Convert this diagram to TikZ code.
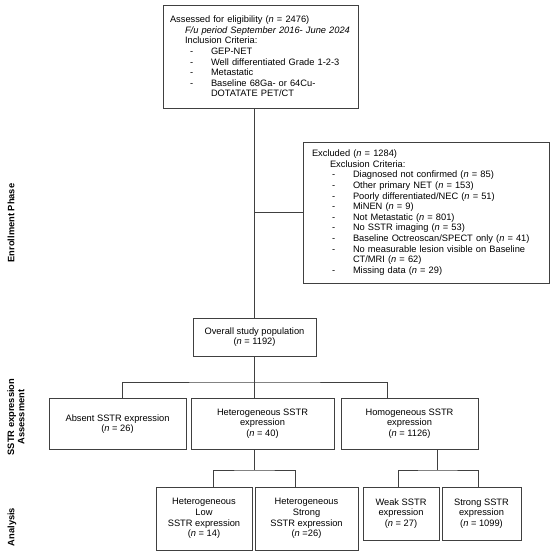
\documentclass[tikz,border=0pt]{standalone}
\usepackage{fontspec}
\setmainfont{Liberation Sans}
\usepackage{tikz}

\newcommand{\nn}{\textit{n}}
\newcommand{\critem}[1]{\hspace*{20pt}\makebox[21pt][l]{-}#1}
\newcommand{\critmore}[1]{\hspace*{41pt}#1}

\begin{document}
\begin{tikzpicture}[x=1pt, y=-1pt,
    every node/.style={font=\fontsize{9.3}{10.6}\selectfont},
    box/.style={draw=black!75, line width=0.9pt, align=center, inner sep=0pt},
    listbox/.style={box, align=left, inner xsep=7pt},
    link/.style={draw=black!75, line width=0.9pt},
    phase/.style={font=\fontsize{9.3}{10.2}\selectfont\bfseries, rotate=90, align=center}]
    \useasboundingbox (0,0) rectangle (550,555);

    % Enrollment
    \node[listbox, minimum width=195pt, minimum height=103pt, text width=181pt] (elig) at (260.5,56.5) {%
        Assessed for eligibility (\nn{} = 2476)\\
        \hspace*{15pt}\textit{F/u period September 2016- June 2024}\\
        \hspace*{15pt}Inclusion Criteria:\\
        \critem{GEP-NET}\\
        \critem{Well differentiated Grade 1-2-3}\\
        \critem{Metastatic}\\
        \critem{Baseline 68Ga- or 64Cu-}\\
        \critmore{DOTATATE PET/CT}};
    \node[listbox, inner xsep=9pt, minimum width=246pt, minimum height=141pt, text width=228pt] (excl) at (426,212.5) {%
        Excluded (\nn{} = 1284)\\
        \hspace*{18pt}Exclusion Criteria:\\
        \critem{Diagnosed not confirmed (\nn{} = 85)}\\
        \critem{Other primary NET (\nn{} = 153)}\\
        \critem{Poorly differentiated/NEC (\nn{} = 51)}\\
        \critem{MiNEN (\nn{} = 9)}\\
        \critem{Not Metastatic (\nn{} = 801)}\\
        \critem{No SSTR imaging (\nn{} = 53)}\\
        \critem{Baseline Octreoscan/SPECT only (\nn{} = 41)}\\
        \critem{No measurable lesion visible on Baseline}\\
        \critmore{CT/MRI (\nn{} = 62)}\\
        \critem{Missing data (\nn{} = 29)}};
    \node[box, minimum width=123pt, minimum height=38pt] (overall) at (254.5,337) {Overall study population\\(\nn{} = 1192)};

    % SSTR expression assessment
    \node[box, minimum width=137pt, minimum height=51pt] (absent) at (117.5,424) {Absent SSTR expression\\(\nn{} = 26)};
    \node[box, minimum width=143pt, minimum height=51pt] (hetero) at (262.5,423.5) {Heterogeneous SSTR\\expression\\(\nn{} = 40)};
    \node[box, minimum width=137pt, minimum height=51pt] (homo) at (409.5,423.5) {Homogeneous SSTR\\expression\\(\nn{} = 1126)};

    % Analysis
    \node[box, minimum width=96pt, minimum height=63pt] (hlow) at (204,518.5) {Heterogeneous\\Low\\SSTR expression\\(\nn{} = 14)};
    \node[box, minimum width=103pt, minimum height=63pt] (hstrong) at (306.5,518.5) {Heterogeneous\\Strong\\SSTR expression\\(\nn{} =26)};
    \node[box, minimum width=76pt, minimum height=53pt] (weak) at (401,513.5) {Weak SSTR\\expression\\(\nn{} = 27)};
    \node[box, minimum width=79pt, minimum height=53pt] (strong) at (481.5,513.5) {Strong SSTR\\expression\\(\nn{} = 1099)};

    % Phase labels
    \node[phase] (lenrol) at (11,223) {Enrollment Phase};
    \node[phase] (lassess) at (16,417) {SSTR expression\\Assessment};
    \node[phase] (lanal) at (12,527) {Analysis};

    % Connectors
    \coordinate (tA) at (254.5,382);
    \coordinate (tB) at (254.5,470);
    \coordinate (tC) at (437,470);
    \path[link] (elig.south -| overall.north) -- (overall.north);
    \path[link] (overall.north |- excl.west) -- (excl.west);
    \path[link] (overall.south) -- (overall.south |- hetero.north);
    \path[link] ([xshift=4.5pt]absent.north) |- (tA) -| ([xshift=-22.5pt]homo.north);
    \path[link] (overall.south |- hetero.south) -- (tB);
    \path[link] ([xshift=9pt]hlow.north) |- (tB) -| ([xshift=-11.5pt]hstrong.north);
    \path[link] ([xshift=27.5pt]homo.south) -- (tC);
    \path[link] ([xshift=-3pt]weak.north) |- (tC) -| ([xshift=-3.5pt]strong.north);
\end{tikzpicture}
\end{document}
